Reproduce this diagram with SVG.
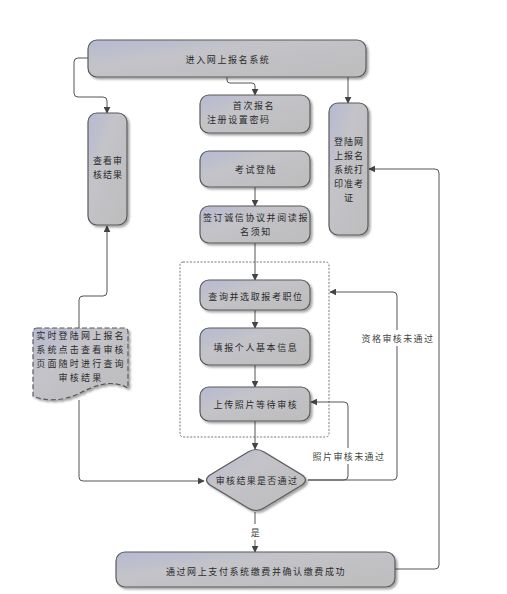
<svg xmlns="http://www.w3.org/2000/svg" width="507" height="594" viewBox="0 0 507 594">
<defs>
<linearGradient id="g" x1="0" y1="0" x2="1" y2="1">
<stop offset="0" stop-color="#b6b9d2"/>
<stop offset="0.35" stop-color="#c3c3c9"/>
<stop offset="1" stop-color="#bdbdbd"/>
</linearGradient>
<filter id="sh" x="-20%" y="-20%" width="150%" height="150%">
<feDropShadow dx="2" dy="2" stdDeviation="1.2" flood-color="#000" flood-opacity="0.35"/>
</filter>
<marker id="ar" viewBox="0 0 10 10" refX="9" refY="5" markerWidth="7" markerHeight="7" orient="auto" markerUnits="userSpaceOnUse">
<path d="M0,0 L10,5 L0,10 z" fill="#444"/>
</marker>
<style>
.box{fill:url(#g);stroke:#5a5a5a;stroke-width:1.2;filter:url(#sh)}
.t{font-family:"Noto Sans CJK SC","Noto Sans CJK TC",sans-serif;font-size:9px;letter-spacing:1.6px;fill:#2a2a2a;text-anchor:middle;dominant-baseline:central}
.l{font-family:"Noto Sans CJK SC","Noto Sans CJK TC",sans-serif;font-size:9px;letter-spacing:1.4px;fill:#444;text-anchor:middle;dominant-baseline:central}
.c{fill:none;stroke:#555;stroke-width:1}
.ca{fill:none;stroke:#555;stroke-width:1;marker-end:url(#ar)}
</style>
</defs>
<rect width="507" height="594" fill="#fff"/>

<g id="group-frame">
<rect x="180" y="262" width="149" height="175" rx="3" fill="none" stroke="#777" stroke-width="1" stroke-dasharray="2 1.5"/>
</g>

<g id="connectors">
<path class="ca" d="M88 58 H78 Q74 58 74 62 V93 Q74 97 78 97 H103 Q107 97 107 101 V113"/>
<path class="ca" d="M227 77 V80 Q227 83 230 83 H252 Q255 83 255 86 V95"/>
<path class="ca" d="M348 77 V103"/>
<path class="ca" d="M255 187 V206"/>
<path class="ca" d="M255 243 V280"/>
<path class="ca" d="M255 310 V328"/>
<path class="ca" d="M255 365 V387"/>
<path class="ca" d="M255 421 V449"/>
<path class="ca" d="M255 512 V552"/>
<path class="ca" d="M79 328 V300 Q79 296 83 296 H103 Q107 296 107 292 V226"/>
<path class="ca" d="M79 400 V477 Q79 481 83 481 H204"/>
<path class="ca" d="M308 480 H393 Q397 480 397 476 V296 Q397 292 393 292 H330"/>
<path class="ca" d="M308 480 H344 Q348 480 348 476 V406 Q348 402 344 402 H311"/>
<path class="ca" d="M395 569 H435 Q439 569 439 565 V173 Q439 169 435 169 H369"/>
<rect x="358" y="330" width="78" height="16" fill="#fff"/>
<text class="l" x="398" y="338">资格审核未通过</text>
<rect x="310" y="448" width="76" height="16" fill="#fff"/>
<text class="l" x="349" y="456">照片审核未通过</text>
<rect x="249" y="524" width="13" height="16" fill="#fff"/>
<text class="l" x="256" y="532">是</text>
</g>

<g id="n-enter">
<rect class="box" x="88" y="40" width="278" height="37" rx="9"/>
<text class="t" x="228" y="59">进入网上报名系统</text>
</g>

<g id="n-view">
<rect class="box" x="88" y="113" width="39" height="112" rx="9"/>
<text class="t" x="108" y="160" style="letter-spacing:1px">查看审</text>
<text class="t" x="108" y="174" style="letter-spacing:1px">核结果</text>
</g>

<g id="n-print">
<rect class="box" x="329" y="103" width="39" height="132" rx="9"/>
<text class="t" x="349" y="141" style="letter-spacing:1px">登陆网</text>
<text class="t" x="349" y="155" style="letter-spacing:1px">上报名</text>
<text class="t" x="349" y="169" style="letter-spacing:1px">系统打</text>
<text class="t" x="349" y="183" style="letter-spacing:1px">印准考</text>
<text class="t" x="349" y="197" style="letter-spacing:1px">证</text>
</g>

<g id="n-register">
<rect class="box" x="200" y="95" width="110" height="38" rx="9"/>
<text class="t" x="254" y="105">首次报名</text>
<text class="t" x="207" y="119" style="text-anchor:start">注册设置密码</text>
</g>

<g id="n-login">
<rect class="box" x="200" y="151" width="110" height="36" rx="9"/>
<text class="t" x="256" y="169">考试登陆</text>
</g>

<g id="n-sign">
<rect class="box" x="200" y="206" width="110" height="37" rx="9"/>
<text class="t" x="256" y="217">签订诚信协议并阅读报</text>
<text class="t" x="256" y="231">名须知</text>
</g>

<g id="n-query">
<rect class="box" x="200" y="280" width="110" height="30" rx="9"/>
<text class="t" x="256" y="296">查询并选取报考职位</text>
</g>

<g id="n-fill">
<rect class="box" x="200" y="328" width="110" height="37" rx="9"/>
<text class="t" x="256" y="347">填报个人基本信息</text>
</g>

<g id="n-upload">
<rect class="box" x="200" y="387" width="110" height="34" rx="9"/>
<text class="t" x="256" y="404">上传照片等待审核</text>
</g>

<g id="n-decision">
<path class="box" d="M248 452 Q256 447 264 452 L302 475 Q309 480 302 485 L264 508 Q256 513 248 508 L210 485 Q203 480 210 475 Z"/>
<text class="t" x="257" y="480" style="letter-spacing:1.3px">审核结果是否通过</text>
</g>

<g id="n-realtime">
<path class="box" d="M37 328 H124 Q128 328 128 332 V388 C112 379 96 385 80 393 C64 401 46 402 33 396 V332 Q33 328 37 328 Z" style="stroke-dasharray:5 2.5"/>
<text class="t" x="81" y="335" style="letter-spacing:2.2px">实时登陆网上报名</text>
<text class="t" x="81" y="349" style="letter-spacing:2.2px">系统点击查看审核</text>
<text class="t" x="81" y="363" style="letter-spacing:2.2px">页面随时进行查询</text>
<text class="t" x="81" y="377" style="letter-spacing:2.2px">审核结果</text>
</g>

<g id="n-pay">
<rect class="box" x="116" y="552" width="279" height="35" rx="9"/>
<text class="t" x="256" y="571">通过网上支付系统缴费并确认缴费成功</text>
</g>
</svg>
